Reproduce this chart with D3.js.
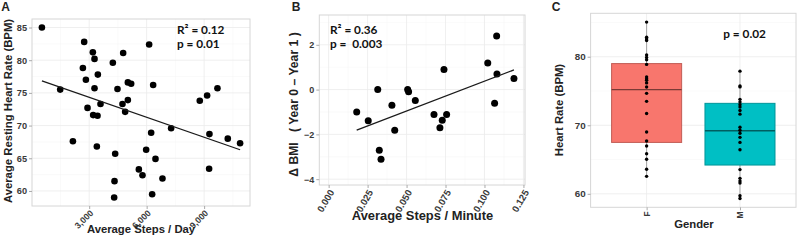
<!DOCTYPE html>
<html>
<head>
<meta charset="utf-8">
<script src="https://cdn.jsdelivr.net/npm/d3@7"></script>
<style>
  body { margin: 0; background: #fff; }
  svg { display: block; }
  .grid-major { stroke: #ebebeb; stroke-width: 0.8; }
  .grid-minor { stroke: #f5f5f5; stroke-width: 0.5; }
  .frame { fill: none; stroke: #d6d6d6; stroke-width: 1; }
  .tick line { stroke: #aaa; }
  .tick text { font-family: "Liberation Sans", Arial, sans-serif; font-weight: bold; fill: #3a3a3a; }
  .title { font-family: "Liberation Sans", Arial, sans-serif; font-weight: bold; fill: #222; white-space: pre; }
  .anno { font-family: Lato, "Open Sans", sans-serif; font-weight: bold; fill: #111; white-space: pre; }
</style>
</head>
<body>
<script>
// ---- data ----
// A: steps per day vs resting heart rate
var stepsPerDay = [532, 1487, 2150, 2739, 2671, 2828, 2913, 3191, 3278, 3278, 3209, 3435, 3452, 3591, 3400,
  4235, 4478, 4357, 4322, 4304, 4774, 4739, 4878, 5019, 5191, 5019, 6130, 6339, 6235, 5974, 6461, 5593,
  5783, 6287, 6826, 7278, 8774, 9157, 9696, 9278, 9261, 10235, 10878];
var restingHR = [85.0, 75.5, 67.6, 82.8, 78.8, 77.0, 72.7, 81.2, 80.2, 75.7, 71.6, 71.5, 77.8, 73.3, 66.8,
  79.6, 75.6, 65.7, 61.5, 59.0, 81.1, 73.3, 72.1, 76.6, 76.4, 73.9, 82.4, 76.2, 68.9, 66.3, 64.9, 63.3,
  62.4, 59.5, 61.9, 69.6, 73.8, 74.6, 75.7, 68.7, 63.4, 68.0, 67.3];
var ticksAx = [3000, 6000, 9000];
var ticksAy = [60, 65, 70, 75, 80, 85];
var statsA = ['R\u00b2 = 0.12', 'p = 0.01'];

// B: steps per minute vs change in BMI
var stepsPerMin = [0.0180, 0.0254, 0.0315, 0.0325, 0.0336, 0.0406, 0.0424, 0.0507, 0.0513, 0.0556,
  0.0676, 0.0714, 0.0729, 0.0757, 0.0740, 0.1021, 0.1078, 0.1080, 0.1065, 0.1189];
var deltaBMI = [-1.00, -1.39, 0.00, -2.71, -3.11, -0.70, -1.81, 0.00, -0.10, -0.49,
  -1.11, -1.70, -1.37, -1.11, 0.90, 1.19, 2.39, 0.70, -0.61, 0.49];
var ticksBx = [0, 0.025, 0.05, 0.075, 0.1, 0.125];
var ticksBy = [-4, -2, 0, 2];
var limitsBx = [-0.006, 0.126];
var limitsBy = [-4.26, 3.33];
var statsB = ['R\u00b2 = 0.36', 'p =  0.003'];

// C: heart rate by gender
var genders = ['F', 'M'];
var hrFemale = [85.05, 82.85, 82.6, 82.36, 80.25, 79.9, 79.56, 78.88, 77.06, 76.77, 76.57, 76.18,
  75.59, 74.66, 73.49, 71.72, 69.03, 67.7, 66.97, 65.84, 65.05, 63.58, 62.55];
var hrMale = [77.9, 75.74, 75.6, 73.78, 73.39, 73.0, 72.65, 72.16, 71.62, 69.71, 69.27, 68.83,
  68.24, 67.5, 66.43, 63.53, 62.26, 61.87, 61.57, 59.71, 59.32];
var boxQ1 = [67.5, 64.2];
var boxMedian = [75.2, 69.2];
var boxQ3 = [79.0, 73.2];
var boxFill = ['#F8766D', '#00BFC4'];
var ticksCy = [60, 70, 80];
var statsC = 'p = 0.02';

// ---- helpers ----
var svg = d3.select('body').append('svg')
  .attr('width', 800)
  .attr('height', 242);

function expand(ext, m){
  var r = ext[1] - ext[0];
  m = m || 0.05;
  return [ext[0] - r*m, ext[1] + r*m];
}

function midpoints(ticks, scale){
  var step = ticks[1] - ticks[0];
  var dom = scale.domain();
  var out = [];
  for(var i = -1; i < ticks.length; i++){
    var v = ticks[0] + step*(i + 0.5);
    if(v > dom[0] && v < dom[1]) out.push(v);
  }
  return out;
}

function linFit(xs, ys){
  var mx = d3.mean(xs), my = d3.mean(ys), sxy = 0, sxx = 0;
  xs.forEach(function(x, i){ sxy += (x - mx)*(ys[i] - my); sxx += (x - mx)*(x - mx); });
  var b = sxy/sxx;
  return function(x){ return my + b*(x - mx); };
}

function gridLines(g, x, y, xMajor, yMajor, xMinor, yMinor){
  var x0 = x.range()[0], x1 = x.range()[1], y0 = y.range()[0], y1 = y.range()[1];
  g.selectAll('.gx-minor').data(xMinor).enter().append('line').attr('class', 'grid-minor')
    .attr('x1', x).attr('x2', x).attr('y1', y0).attr('y2', y1);
  g.selectAll('.gy-minor').data(yMinor).enter().append('line').attr('class', 'grid-minor')
    .attr('x1', x0).attr('x2', x1).attr('y1', y).attr('y2', y);
  g.selectAll('.gx-major').data(xMajor).enter().append('line').attr('class', 'grid-major')
    .attr('x1', x).attr('x2', x).attr('y1', y0).attr('y2', y1);
  g.selectAll('.gy-major').data(yMajor).enter().append('line').attr('class', 'grid-major')
    .attr('x1', x0).attr('x2', x1).attr('y1', y).attr('y2', y);
}

function frame(g, x, y){
  var r = x.range(), d = y.range();
  g.append('rect').attr('class', 'frame')
    .attr('x', r[0]).attr('y', d[1])
    .attr('width', r[r.length - 1] - r[0]).attr('height', d[0] - d[1]);
}

function yAxis(g, y, left, ticks, fmt, size){
  g.append('g')
    .attr('transform', 'translate(' + left + ',0)')
    .call(d3.axisLeft(y).tickValues(ticks).tickSize(3).tickPadding(2).tickFormat(fmt))
    .call(function(a){ a.select('.domain').remove(); })
    .selectAll('text').style('font-size', size + 'px');
}

function xAxis(g, x, bottom, ticks, fmt, size, angle, dx, dy){
  g.append('g')
    .attr('transform', 'translate(0,' + bottom + ')')
    .call(d3.axisBottom(x).tickValues(ticks).tickSize(3).tickFormat(fmt))
    .call(function(a){ a.select('.domain').remove(); })
    .selectAll('text')
    .style('font-size', size + 'px')
    .attr('text-anchor', 'end')
    .attr('x', 0).attr('y', 0).attr('dy', '0.35em')
    .attr('transform', 'translate(' + dx + ',' + dy + ') rotate(' + (-angle) + ')');
}

function label(text, x, y, size, rotate, anchor){
  svg.append('text').attr('class', 'title')
    .attr('transform', 'translate(' + x + ',' + y + ')' + (rotate ? ' rotate(-90)' : ''))
    .attr('text-anchor', anchor || 'middle')
    .style('font-size', size + 'px')
    .text(text);
}

// ============== Panel A ==============
var gA = svg.append('g');
var xA = d3.scaleLinear().domain(expand(d3.extent(stepsPerDay))).range([32, 250]);
var yA = d3.scaleLinear().domain(expand(d3.extent(restingHR))).range([206, 19]);

gridLines(gA, xA, yA, ticksAx, ticksAy, midpoints(ticksAx, xA), midpoints(ticksAy, yA));
frame(gA, xA, yA);
yAxis(gA, yA, 32, ticksAy, d3.format('d'), 9.2);
xAxis(gA, xA, 206, ticksAx, d3.format(','), 8.8, 45, 2, 5.5);

gA.selectAll('.dot').data(stepsPerDay).enter().append('circle')
  .attr('cx', function(d){ return xA(d); })
  .attr('cy', function(d, i){ return yA(restingHR[i]); })
  .attr('r', 3.3)
  .attr('fill', '#000');

var fitA = linFit(stepsPerDay, restingHR);
var extA = d3.extent(stepsPerDay);
gA.append('line')
  .attr('x1', xA(extA[0])).attr('y1', yA(fitA(extA[0])))
  .attr('x2', xA(extA[1])).attr('y2', yA(fitA(extA[1])))
  .attr('stroke', '#1a1a1a').attr('stroke-width', 1.3);

gA.selectAll('.anno').data(statsA).enter().append('text').attr('class', 'anno')
  .attr('x', 177).attr('y', function(d, i){ return 33.5 + i*14.5; })
  .style('font-size', '11.8px')
  .text(function(d){ return d; });

label('A', 5.5, 10.8, 12);
label('Average Resting Heart Rate (BPM)', 11.8, 111, 11.3, true);
label('Average Steps / Day', 141, 233, 11.3);

// ============== Panel B ==============
var gB = svg.append('g');
var xB = d3.scaleLinear().domain(limitsBx).range([319.3, 525]);
var yB = d3.scaleLinear().domain(limitsBy).range([185, 15]);

gridLines(gB, xB, yB, ticksBx, ticksBy, midpoints(ticksBx, xB), midpoints(ticksBy, yB));
frame(gB, xB, yB);
yAxis(gB, yB, 319.3, ticksBy, d3.format('d'), 9);
xAxis(gB, xB, 185, ticksBx, d3.format('.3f'), 9.6, 60, 2.5, 5.5);

gB.selectAll('.dot').data(stepsPerMin).enter().append('circle')
  .attr('cx', function(d){ return xB(d); })
  .attr('cy', function(d, i){ return yB(deltaBMI[i]); })
  .attr('r', 3.5)
  .attr('fill', '#000');

var fitB = linFit(stepsPerMin, deltaBMI);
var extB = d3.extent(stepsPerMin);
gB.append('line')
  .attr('x1', xB(extB[0])).attr('y1', yB(fitB(extB[0])))
  .attr('x2', xB(extB[1])).attr('y2', yB(fitB(extB[1])))
  .attr('stroke', '#1a1a1a').attr('stroke-width', 1.3);

gB.selectAll('.anno').data(statsB).enter().append('text').attr('class', 'anno')
  .attr('x', 330).attr('y', function(d, i){ return 34 + i*13.7; })
  .style('font-size', '11.8px')
  .text(function(d){ return d; });

label('B', 296, 10.7, 12);
label('\u0394 BMI   ( Year 0 \u2013 Year 1 )', 297.5, 104.5, 12.2, true);
label('Average Steps / Minute', 422.5, 219.5, 12.9);

// ============== Panel C ==============
var gC = svg.append('g');
var hrAll = hrFemale.concat(hrMale);
var xC = d3.scalePoint().domain(genders).range([590.6, 796]).padding(0.6);
var yC = d3.scaleLinear().domain(expand(d3.extent(hrAll))).range([207.3, 13.3]);
var boxW = xC.step()*0.75;

gridLines(gC, xC, yC, genders, ticksCy, [], midpoints(ticksCy, yC));
frame(gC, xC, yC);
yAxis(gC, yC, 590.6, ticksCy, d3.format('d'), 9.8);
xAxis(gC, xC, 207.3, genders, null, 8.5, 90, 0, 4);

var hrByGender = [hrFemale, hrMale];

// whiskers
gC.selectAll('.whisker').data(genders).enter().append('line')
  .attr('x1', function(d){ return xC(d); }).attr('x2', function(d){ return xC(d); })
  .attr('y1', function(d, i){ return yC(d3.min(hrByGender[i])); })
  .attr('y2', function(d, i){ return yC(d3.max(hrByGender[i])); })
  .attr('stroke', '#999').attr('stroke-width', 0.9);

// boxes
gC.selectAll('.box').data(genders).enter().append('rect')
  .attr('x', function(d){ return xC(d) - boxW/2; })
  .attr('y', function(d, i){ return yC(boxQ3[i]); })
  .attr('width', boxW)
  .attr('height', function(d, i){ return yC(boxQ1[i]) - yC(boxQ3[i]); })
  .attr('fill', function(d, i){ return boxFill[i]; })
  .attr('stroke', function(d, i){ return d3.color(boxFill[i]).darker(0.7); })
  .attr('stroke-width', 1);

gC.selectAll('.median').data(genders).enter().append('line')
  .attr('x1', function(d){ return xC(d) - boxW/2; })
  .attr('x2', function(d){ return xC(d) + boxW/2; })
  .attr('y1', function(d, i){ return yC(boxMedian[i]); })
  .attr('y2', function(d, i){ return yC(boxMedian[i]); })
  .attr('stroke', function(d, i){ return d3.color(boxFill[i]).darker(2); })
  .attr('stroke-width', 1.3);

// points
genders.forEach(function(gname, gi){
  gC.selectAll('.pt-' + gname).data(hrByGender[gi]).enter().append('circle')
    .attr('cx', xC(gname))
    .attr('cy', function(d){ return yC(d); })
    .attr('r', 1.7)
    .attr('fill', '#000');
});

gC.append('text').attr('class', 'anno')
  .attr('x', 723.3).attr('y', 37.7)
  .style('font-size', '11.8px')
  .text(statsC);

label('C', 556, 10.7, 12);
label('Heart Rate (BPM)', 563, 110, 11.3, true);
label('Gender', 694, 228, 11.3);
</script>
</body>
</html>
